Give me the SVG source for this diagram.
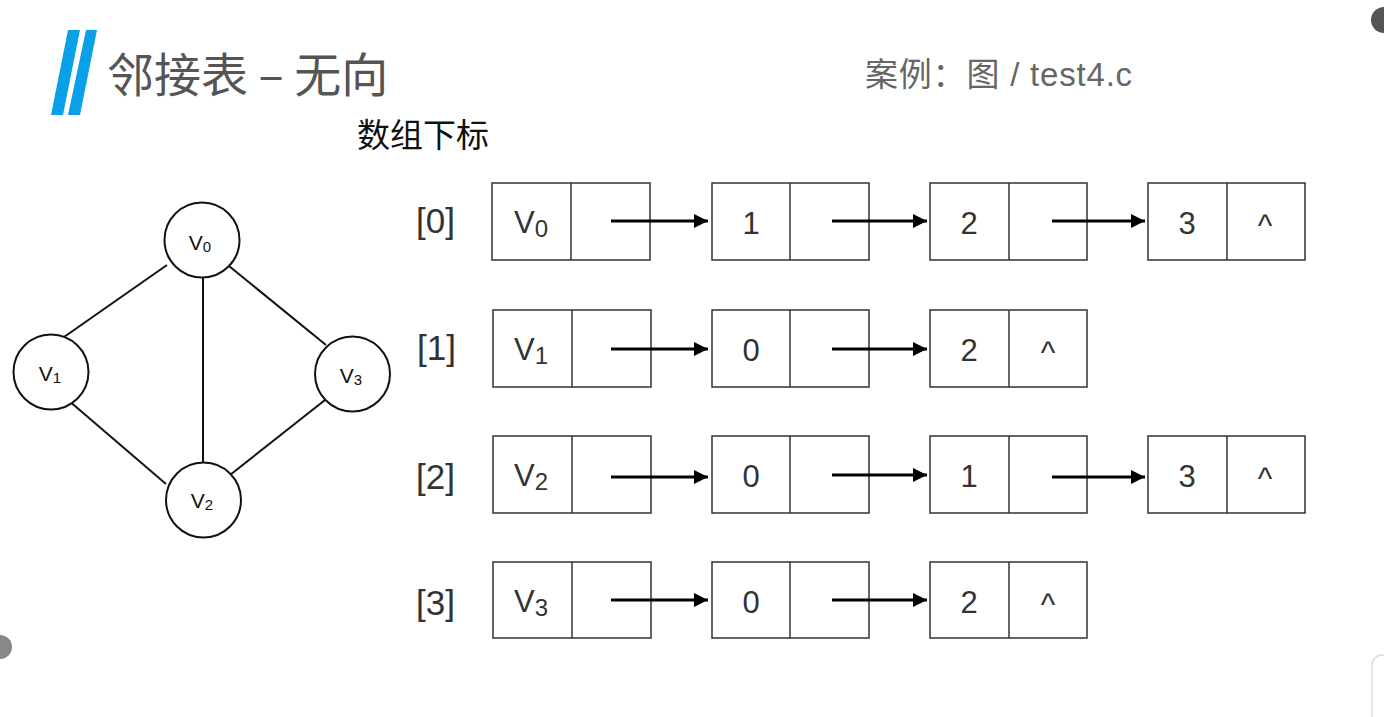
<svg xmlns="http://www.w3.org/2000/svg" width="1384" height="717" viewBox="0 0 1384 717">
<defs>
<style>
.cell{fill:#fff;stroke:#333;stroke-width:1.5}
.div{stroke:#333;stroke-width:1.5}
.edge{stroke:#111;stroke-width:2;fill:none}
.ptr{stroke:#000;stroke-width:3;fill:none}
.node{fill:#fff;stroke:#111;stroke-width:2}
.idx{font-family:"Liberation Sans",Arial,sans-serif;font-size:35px;fill:#333}
.val{font-family:"Liberation Sans",Arial,sans-serif;font-size:31px;fill:#333;text-anchor:middle}
.gl{font-family:"Liberation Sans",Arial,sans-serif;font-size:21px;fill:#111;text-anchor:middle}
</style>
<marker id="ah" viewBox="0 0 10 10" refX="10" refY="5" markerWidth="14" markerHeight="14" markerUnits="userSpaceOnUse" orient="auto">
<path d="M0,0 L10,5 L0,10 z" fill="#000"/>
</marker>
</defs>
<rect width="1384" height="717" fill="#fff"/>
<circle cx="1384" cy="20" r="13" fill="#555"/>
<circle cx="0" cy="647" r="12" fill="#888"/>
<rect x="1372" y="655" width="30" height="80" rx="10" fill="#fff" stroke="#ddd" stroke-width="1.5"/>
<g id="title">
<polygon points="68,30 80,30 63,115 51,115" fill="#0AA0E8"/>
<polygon points="86,30 97,30 80,115 68,115" fill="#0AA0E8"/>
<text x="107" y="92" font-family="'Noto Sans CJK SC',sans-serif" font-size="47" fill="#555">邻接表 – 无向</text>
<text x="865" y="86" font-family="'Liberation Sans','Noto Sans CJK SC',sans-serif" font-size="33" letter-spacing="0.8" fill="#666">案例：图 / test4.c</text>
<text x="357" y="147" font-family="'Noto Sans CJK SC',sans-serif" font-size="33" fill="#111">数组下标</text>
</g>
<g id="graph-edges">
<line class="edge" x1="167" y1="265" x2="64" y2="337"/>
<line class="edge" x1="229" y1="266" x2="326" y2="345"/>
<line class="edge" x1="203" y1="277" x2="203" y2="467"/>
<line class="edge" x1="68" y1="400" x2="166" y2="484"/>
<line class="edge" x1="325" y1="400" x2="230" y2="475"/>
</g>
<g id="gV0"><circle class="node" cx="202" cy="240" r="37.5"/><text class="gl" x="200" y="250">V<tspan font-size="15" dy="2">0</tspan></text></g>
<g id="gV1"><circle class="node" cx="51" cy="372" r="37.5"/><text class="gl" x="50" y="381">V<tspan font-size="15" dy="2">1</tspan></text></g>
<g id="gV2"><circle class="node" cx="203.5" cy="500" r="37.5"/><text class="gl" x="202" y="508">V<tspan font-size="15" dy="2">2</tspan></text></g>
<g id="gV3"><circle class="node" cx="352.5" cy="374" r="37.5"/><text class="gl" x="351" y="383">V<tspan font-size="15" dy="2">3</tspan></text></g>

<g id="row0">
<text class="idx" x="416" y="233">[0]</text>
<g id="r0c0"><rect class="cell" x="492" y="183" width="158" height="77"/><line class="div" x1="571" y1="183" x2="571" y2="260"/><text class="val" x="531" y="233" font-size="33">V<tspan font-size="24" dy="4">0</tspan></text></g>
<g id="r0c1"><rect class="cell" x="712" y="183" width="157" height="77"/><line class="div" x1="790" y1="183" x2="790" y2="260"/><text class="val" x="751" y="234">1</text></g>
<g id="r0c2"><rect class="cell" x="930" y="183" width="157" height="77"/><line class="div" x1="1009" y1="183" x2="1009" y2="260"/><text class="val" x="969" y="234">2</text></g>
<g id="r0c3"><rect class="cell" x="1148" y="183" width="157" height="77"/><line class="div" x1="1227" y1="183" x2="1227" y2="260"/><text class="val" x="1187" y="234">3</text><text class="val" x="1265" y="236">^</text></g>
</g>
<g id="row1">
<text class="idx" x="417" y="360">[1]</text>
<g id="r1c0"><rect class="cell" x="493" y="310" width="158" height="77"/><line class="div" x1="572" y1="310" x2="572" y2="387"/><text class="val" x="531" y="360" font-size="33">V<tspan font-size="24" dy="4">1</tspan></text></g>
<g id="r1c1"><rect class="cell" x="712" y="310" width="157" height="77"/><line class="div" x1="790" y1="310" x2="790" y2="387"/><text class="val" x="751" y="361">0</text></g>
<g id="r1c2"><rect class="cell" x="930" y="310" width="157" height="77"/><line class="div" x1="1009" y1="310" x2="1009" y2="387"/><text class="val" x="969" y="361">2</text><text class="val" x="1048" y="363">^</text></g>
</g>
<g id="row2">
<text class="idx" x="416" y="489">[2]</text>
<g id="r2c0"><rect class="cell" x="493" y="436" width="158" height="77"/><line class="div" x1="572" y1="436" x2="572" y2="513"/><text class="val" x="531" y="486" font-size="33">V<tspan font-size="24" dy="4">2</tspan></text></g>
<g id="r2c1"><rect class="cell" x="712" y="436" width="157" height="77"/><line class="div" x1="790" y1="436" x2="790" y2="513"/><text class="val" x="751" y="487">0</text></g>
<g id="r2c2"><rect class="cell" x="930" y="436" width="157" height="77"/><line class="div" x1="1009" y1="436" x2="1009" y2="513"/><text class="val" x="969" y="487">1</text></g>
<g id="r2c3"><rect class="cell" x="1148" y="436" width="157" height="77"/><line class="div" x1="1227" y1="436" x2="1227" y2="513"/><text class="val" x="1187" y="487">3</text><text class="val" x="1265" y="489">^</text></g>
</g>
<g id="row3">
<text class="idx" x="416" y="615">[3]</text>
<g id="r3c0"><rect class="cell" x="493" y="562" width="158" height="76"/><line class="div" x1="572" y1="562" x2="572" y2="638"/><text class="val" x="531" y="612" font-size="33">V<tspan font-size="24" dy="4">3</tspan></text></g>
<g id="r3c1"><rect class="cell" x="712" y="562" width="157" height="76"/><line class="div" x1="790" y1="562" x2="790" y2="638"/><text class="val" x="751" y="613">0</text></g>
<g id="r3c2"><rect class="cell" x="930" y="562" width="157" height="76"/><line class="div" x1="1009" y1="562" x2="1009" y2="638"/><text class="val" x="969" y="613">2</text><text class="val" x="1048" y="615">^</text></g>
</g>

<g id="connectors">
<line class="ptr" x1="611" y1="221" x2="708" y2="221" marker-end="url(#ah)"/>
<line class="ptr" x1="832" y1="221" x2="927" y2="221" marker-end="url(#ah)"/>
<line class="ptr" x1="1052" y1="221" x2="1145" y2="221" marker-end="url(#ah)"/>
<line class="ptr" x1="611" y1="349" x2="708" y2="349" marker-end="url(#ah)"/>
<line class="ptr" x1="832" y1="349" x2="927" y2="349" marker-end="url(#ah)"/>
<line class="ptr" x1="611" y1="477" x2="708" y2="477" marker-end="url(#ah)"/>
<line class="ptr" x1="832" y1="475" x2="927" y2="475" marker-end="url(#ah)"/>
<line class="ptr" x1="1052" y1="477" x2="1145" y2="477" marker-end="url(#ah)"/>
<line class="ptr" x1="611" y1="600" x2="708" y2="600" marker-end="url(#ah)"/>
<line class="ptr" x1="832" y1="600" x2="927" y2="600" marker-end="url(#ah)"/>
</g>
</svg>
